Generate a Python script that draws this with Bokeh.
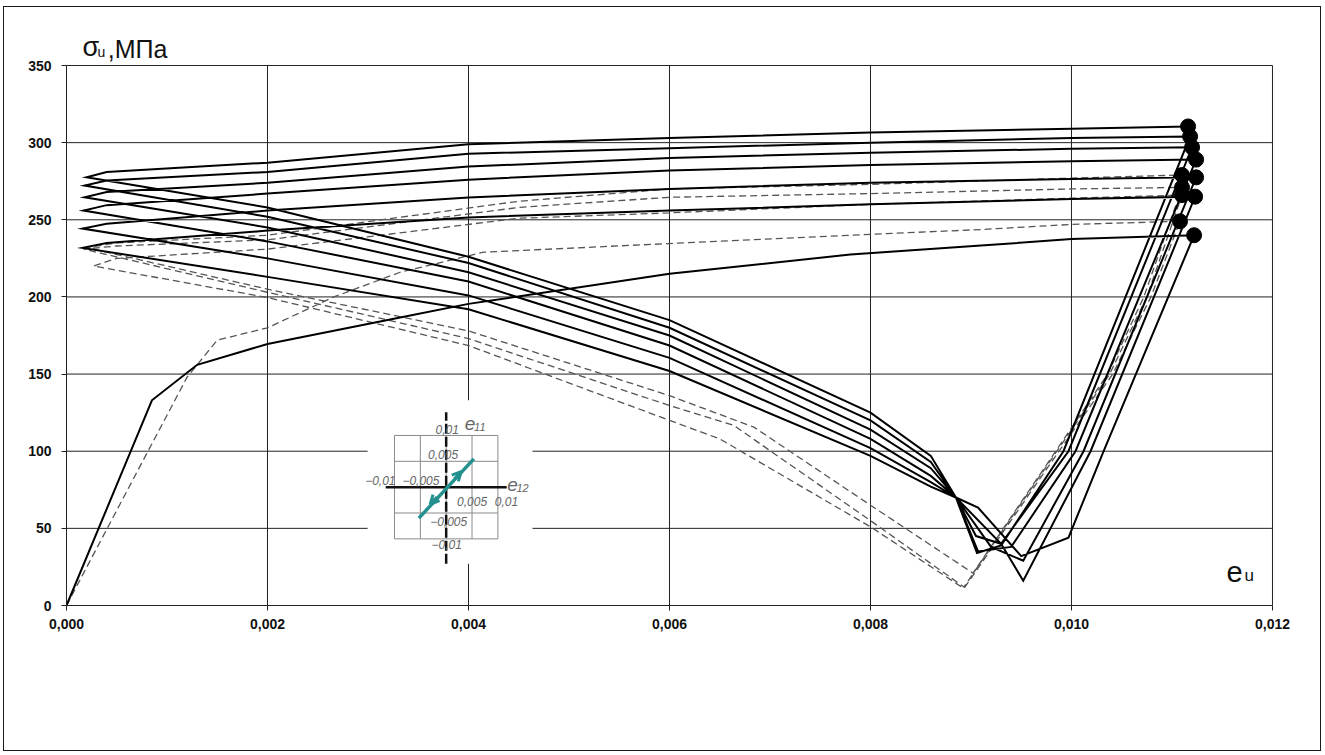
from bokeh.plotting import figure
from bokeh.models import FixedTicker, CustomJSTickFormatter, Label, Arrow, OpenHead
from bokeh.embed import file_html
from bokeh.resources import INLINE

# ---------------- axes ----------------
x_ticks = [0.0, 0.002, 0.004, 0.006, 0.008, 0.010, 0.012]
y_ticks = [0, 50, 100, 150, 200, 250, 300, 350]

# ---------------- computed curve (solid) ----------------
# monotonic loading up to the first peak
load_eu = [0.0, 0.00085, 0.0013, 0.002, 0.00332, 0.004, 0.006, 0.0078, 0.0091, 0.010]
load_su = [0, 133, 156, 169.5, 186.7, 195.5, 215, 227.5, 233.3, 237.5]

# peaks of every half-cycle (marked with dots)
peak_eu = [0.01122, 0.01123, 0.01124, 0.01124, 0.0112, 0.01118, 0.01116]
peak_su = [240, 265, 277.5, 289, 297, 304, 310.5]

# elastic unloading branch: strain where it passes UNLOAD_SU
UNLOAD_SU = 100
unload_eu = [0.01032, 0.01019, 0.01012, 0.01004, 0.00997, 0.00992]

# bottom of each cycle (stress reversal zone)
valley_eu = [[0.00997, 0.0095, 0.00907], [0.00952, 0.0093], [0.00952, 0.0092],
             [0.0094, 0.00907], [0.0093, 0.00905], [0.0093, 0.00906]]
valley_su = [[44, 32, 63.5], [16, 40], [29, 38], [38, 35], [40, 45], [39, 34]]

# common crossing point of the reverse-loading branches
cross_eu = 0.00885
cross_su = 70

# reverse loading (strain intensity decreasing)
desc_eu = [0.0086, 0.008, 0.006, 0.004, 0.002]
desc_su = [[77, 97, 152, 192, 213],
           [80, 102, 160.5, 201, 225],
           [84, 108, 168.5, 210, 236],
           [89, 114, 175, 216, 245],
           [93, 120, 180, 222, 252],
           [97, 125, 185, 226, 258]]

# turning points near zero strain intensity
tip_eu = [0.00016, 0.00016, 0.00017, 0.00018, 0.00018, 0.0002]
tip_su = [231.8, 244.3, 256, 264.6, 272.2, 277.6]

# forward loading back to the next peak
asc_eu = [0.0004, 0.002, 0.004, 0.006, 0.008, 0.010]
asc_su = [[235, 243, 251.5, 256, 260, 263.5],
          [247.5, 256, 264.5, 270, 274, 276.5],
          [259.5, 267, 276, 282, 285.5, 288],
          [268, 274, 284.5, 290, 293.5, 296],
          [275.5, 281, 292.8, 296.4, 300, 303],
          [281, 287, 299, 303, 306.5, 309]]

# ---------------- experimental curve (dashed) ----------------
dload_eu = [0.0, 0.0012, 0.0015, 0.002, 0.00266, 0.00332, 0.00415, 0.006, 0.0078, 0.0091, 0.010]
dload_su = [0, 148, 172, 180, 200, 216, 229, 234.6, 240, 243.7, 247]

dpeak_eu = [0.01108, 0.0111, 0.0111, 0.0111]
dpeak_su = [249, 266, 271, 279]

dunload_su = [200, 150, 92]
dunload_eu = [[0.01079, 0.01041, 0.00979],
              [0.01075, 0.01038, 0.00977],
              [0.01072, 0.01036, 0.00976]]

dvalley_eu = [0.00893, 0.00893, 0.00902]
dvalley_su = [11, 12, 21]

ddesc_eu = [[0.008, 0.0065, 0.006, 0.004, 0.002],
            [0.008, 0.00664, 0.006, 0.004, 0.002],
            [0.008, 0.00684, 0.006, 0.004, 0.002]]
ddesc_su = [[51, 108, 120, 168.5, 199.6],
            [55, 116.7, 129.6, 173, 203],
            [65, 115.6, 136, 178, 205]]

dtip_eu = [0.00027, 0.00017, 0.0002]
dtip_su = [220, 231, 232]

dasc_eu = [0.0005, 0.002, 0.0045, 0.006, 0.008, 0.010]
dasc_su = [[225, 231, 251, 254.5, 260, 264],
           [233, 237, 258, 264.6, 267, 270],
           [235, 240, 262, 270, 273, 277]]

# ---------------- strain path diagram (e12, e11) ----------------
path_grid = [-0.01, -0.005, 0.0, 0.005, 0.01]
path_e12 = [-0.00529, 0.00535]
path_e11 = [-0.0060, 0.00548]

# ---------------- assemble polylines ----------------
solid_x = load_eu + [peak_eu[0]]
solid_y = load_su + [peak_su[0]]
for k in range(len(tip_su)):
    solid_x += [unload_eu[k]] + valley_eu[k] + [cross_eu] + desc_eu + [tip_eu[k]] + asc_eu + [peak_eu[k + 1]]
    solid_y += [UNLOAD_SU] + valley_su[k] + [cross_su] + desc_su[k] + [tip_su[k]] + asc_su[k] + [peak_su[k + 1]]

dash_x = dload_eu + [dpeak_eu[0]]
dash_y = dload_su + [dpeak_su[0]]
for k in range(len(dtip_su)):
    dash_x += dunload_eu[k] + [dvalley_eu[k]] + ddesc_eu[k] + [dtip_eu[k]] + dasc_eu + [dpeak_eu[k + 1]]
    dash_y += dunload_su + [dvalley_su[k]] + ddesc_su[k] + [dtip_su[k]] + dasc_su[k] + [dpeak_su[k + 1]]

# ---------------- figure ----------------
# the frame reaches up to the canvas top so the stress caption can sit above 350
X_END = 0.01204
Y_END = 387.6
p = figure(x_range=(0, X_END), y_range=(0, Y_END),
           frame_width=1210, frame_height=598,
           min_border_left=62, min_border_right=44, min_border_top=0, min_border_bottom=145,
           output_backend="svg", toolbar_location=None)
p.styles = {"position": "absolute", "left": "3px", "top": "6px", "border": "1px solid #1a1a1a"}
p.background_fill_color = "white"
p.border_fill_color = "white"
p.outline_line_color = None
p.xgrid.visible = False
p.ygrid.visible = False

p.xaxis.ticker = FixedTicker(ticks=x_ticks)
p.yaxis.ticker = FixedTicker(ticks=y_ticks)
p.xaxis.bounds = (x_ticks[0], x_ticks[-1])
p.yaxis.bounds = (y_ticks[0], y_ticks[-1])
p.xaxis.formatter = CustomJSTickFormatter(code="return tick.toFixed(3).replace('.', ',');")
for ax in (p.xaxis[0], p.yaxis[0]):
    ax.major_label_text_font = "Liberation Sans"
    ax.major_label_text_font_style = "bold"
    ax.major_label_text_font_size = "14px"
    ax.major_label_text_color = "#111"
    ax.major_tick_out = 5
    ax.major_tick_in = 0
    ax.minor_tick_out = 0
    ax.minor_tick_in = 0
    ax.axis_line_color = "#222"
    ax.major_tick_line_color = "#222"
p.xaxis.major_label_standoff = 8
p.yaxis.major_label_standoff = 10

# grid lines, limited to the tick span
GRID = "#222"
p.segment(x0=x_ticks, y0=[y_ticks[0]] * len(x_ticks), x1=x_ticks, y1=[y_ticks[-1]] * len(x_ticks),
          line_color=GRID, line_width=1)
p.segment(x0=[x_ticks[0]] * len(y_ticks), y0=y_ticks, x1=[x_ticks[-1]] * len(y_ticks), y1=y_ticks,
          line_color=GRID, line_width=1)

# curves
p.line(dash_x, dash_y, line_color="#555555", line_width=1.3, line_dash="7 4")
p.line(solid_x, solid_y, line_color="black", line_width=2, line_join="miter")
p.scatter(peak_eu + dpeak_eu, peak_su + dpeak_su, size=15, color="black")

# ---------------- inset: loading path in strain plane ----------------
INSET_CX, INSET_CY = 0.003778, 76.7     # origin of the strain plane in plot units
INSET_KX, INSET_KY = 0.05144, 3351.0    # plot units per unit of strain


def to_plot(e12, e11):
    return INSET_CX + e12 * INSET_KX, INSET_CY + e11 * INSET_KY


bl = to_plot(-0.0152, -0.0148)
tr = to_plot(0.0167, 0.0168)
p.quad(left=bl[0], right=tr[0], bottom=bl[1], top=tr[1], fill_color="white", line_color=None)

gx0, gy0 = to_plot(path_grid[0], path_grid[0])
gx1, gy1 = to_plot(path_grid[-1], path_grid[-1])
vx, hy = [], []
for g in path_grid:
    vx.append(to_plot(g, 0)[0])
    hy.append(to_plot(0, g)[1])
p.multi_line([[x, x] for x in vx] + [[gx0, gx1] for _ in hy],
             [[gy0, gy1] for _ in vx] + [[y, y] for y in hy],
             line_color="#8a8a8a", line_width=1)

ax0 = to_plot(-0.0117, 0)
ax1 = to_plot(0.0117, 0)
p.line([ax0[0], ax1[0]], [ax0[1], ax1[1]], line_color="#111", line_width=2.5)
ay0 = to_plot(0, -0.0148)
ay1 = to_plot(0, 0.0145)
p.line([ay0[0], ay1[0]], [ay0[1], ay1[1]], line_color="#111", line_width=2.5, line_dash="10 3")

ps = to_plot(path_e12[0], path_e11[0])
pe = to_plot(path_e12[1], path_e11[1])
TEAL = "#24918f"
p.line([ps[0], pe[0]], [ps[1], pe[1]], line_color=TEAL, line_width=3.5)
for (s12, s11), (t12, t11) in [((0.0016, 0.0016), (0.0029, 0.0030)),
                               ((-0.0018, -0.0019), (-0.0031, -0.0033))]:
    s = to_plot(s12, s11)
    t = to_plot(t12, t11)
    p.add_layout(Arrow(x_start=s[0], y_start=s[1], x_end=t[0], y_end=t[1],
                       line_color=TEAL, line_width=3,
                       end=OpenHead(size=9, line_color=TEAL, line_width=3)))

INSET_FONT = "Liberation Sans"


def inset_text(e12, e11, txt, align, baseline, size="12px"):
    x, y = to_plot(e12, e11)
    p.add_layout(Label(x=x, y=y, text=txt, text_font=INSET_FONT, text_font_style="italic",
                       text_font_size=size, text_color="#666666",
                       text_align=align, text_baseline=baseline))


inset_text(0.0002, 0.0103, "0,01", "center", "bottom")
inset_text(-0.0006, 0.0054, "0,005", "center", "bottom")
inset_text(-0.0098, 0.0004, "\u22120,01", "right", "bottom")
inset_text(-0.0013, 0.0004, "\u22120,005", "right", "bottom")
inset_text(0.0021, -0.0019, "0,005", "left", "top")
inset_text(0.0094, -0.0019, "0,01", "left", "top")
inset_text(-0.0031, -0.0057, "\u22120,005", "left", "top")
inset_text(0.0001, -0.0103, "\u22120,01", "center", "top")
inset_text(0.0036, 0.0123, "e", "left", "alphabetic", "19px")
inset_text(0.0054, 0.0117, "11", "left", "alphabetic", "11px")
inset_text(0.0118, 0.0005, "e", "left", "alphabetic", "19px")
inset_text(0.0136, -0.0001, "12", "left", "alphabetic", "11px")

# ---------------- axis captions ----------------
CAP_FONT = "Liberation Sans"


def caption(x, y, txt, size):
    p.add_layout(Label(x=x, y=y, text=txt, text_font=CAP_FONT, text_font_size=size,
                       text_color="#111", text_baseline="middle"))


caption(0.000159, 361.9, "\u03c3", "27px")
caption(0.000308, 358.6, "u", "14px")
caption(0.00041, 361.0, ",\u041c\u041f\u0430", "25px")
caption(0.011542, 21.8, "e", "29px")
caption(0.011721, 19.3, "u", "17px")

open("out.html", "w").write(file_html(p, INLINE))
